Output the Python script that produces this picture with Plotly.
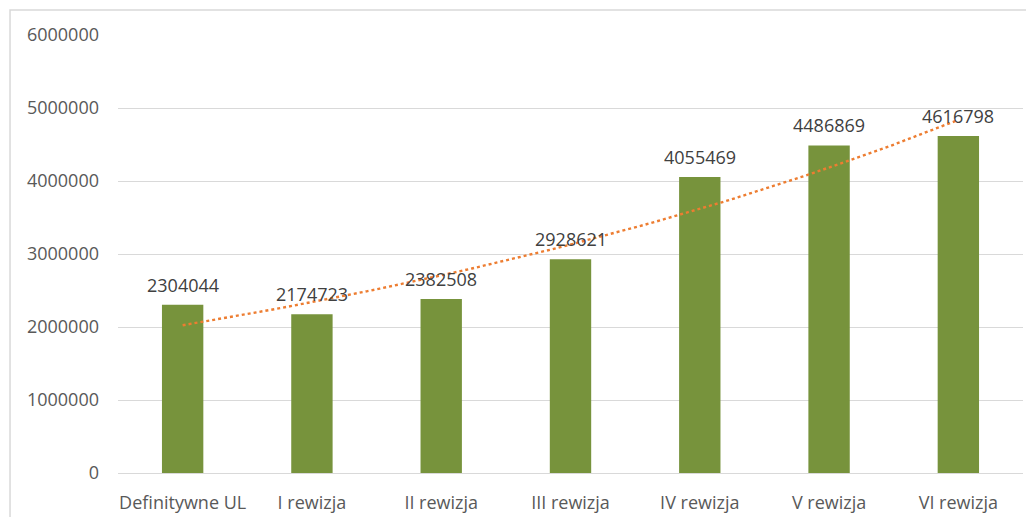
import numpy as np
import plotly.graph_objects as go

categories = ["Definitywne UL", "I rewizja", "II rewizja", "III rewizja", "IV rewizja", "V rewizja", "VI rewizja"]
values = [2304044, 2174723, 2382508, 2928621, 4055469, 4486869, 4616798]
y_ticks = [0, 1000000, 2000000, 3000000, 4000000, 5000000, 6000000]

# exponential trendline (least squares on log values), like Excel's
xi = np.arange(1, len(values) + 1)
b, a = np.polyfit(xi, np.log(values), 1)
xs = np.linspace(1, len(values), 60)
trend = np.exp(a + b * xs)

font_family = "Open Sans, Noto Sans, sans-serif"

fig = go.Figure()
fig.add_trace(go.Bar(
    x=list(range(1, len(values) + 1)), y=values,
    marker=dict(color="#77933C", line=dict(width=0)),
    width=0.32, showlegend=False, hoverinfo="y",
))
fig.add_trace(go.Scatter(
    x=xs, y=trend, mode="lines",
    line=dict(color="#ED7D31", width=2.4, dash="dot"),
    showlegend=False, hoverinfo="skip",
))

for i, v in enumerate(values):
    fig.add_annotation(
        x=i + 1, y=v, text=str(v), showarrow=False,
        yanchor="bottom", yshift=6,
        font=dict(family=font_family, size=18, color="#404040"),
    )

# outer chart border
fig.add_shape(type="rect", xref="paper", yref="paper",
              x0=-0.1193, x1=1.05, y0=-0.3, y1=1.057,
              line=dict(color="#D9D9D9", width=1.5), fillcolor="rgba(0,0,0,0)", layer="below")

fig.update_layout(
    width=1026, height=509,
    margin=dict(l=110, r=11, t=27, b=44),
    paper_bgcolor="white", plot_bgcolor="white",
    font=dict(family=font_family, size=18, color="#595959"),
    xaxis=dict(
        tickmode="array", tickvals=list(range(1, len(categories) + 1)), ticktext=categories,
        range=[0.5, len(categories) + 0.5], showgrid=False, zeroline=False,
        showline=False, ticks="", ticklabelstandoff=17, automargin=False,
        tickfont=dict(size=18, color="#595959"),
    ),
    yaxis=dict(
        tickmode="array", tickvals=y_ticks, ticktext=[str(t) for t in y_ticks],
        range=[0, 6000000], showgrid=True, gridcolor="#D9D9D9", gridwidth=1,
        zeroline=True, zerolinecolor="#D9D9D9", zerolinewidth=1,
        showline=False, ticks="", ticklabelstandoff=18, automargin=False,
        tickfont=dict(size=18, color="#595959"),
    ),
)

fig.write_html("out.html")
